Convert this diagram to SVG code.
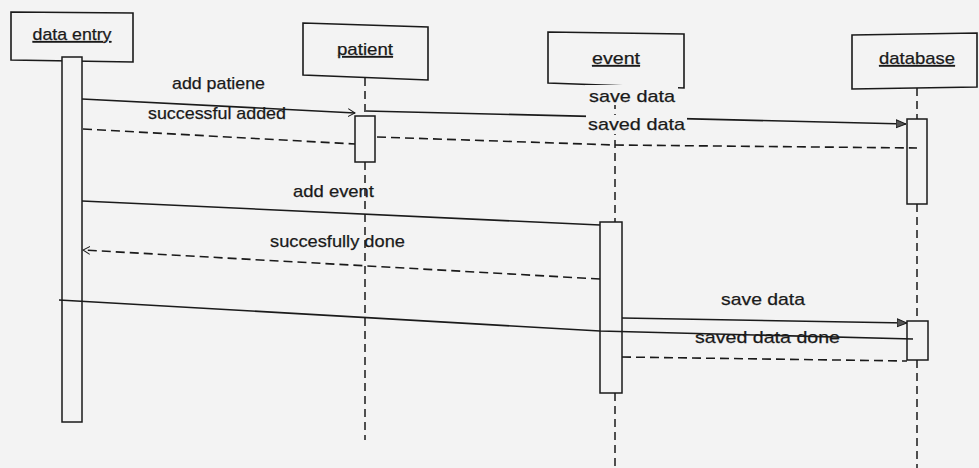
<svg xmlns="http://www.w3.org/2000/svg" width="979" height="468" viewBox="0 0 979 468">
  <style>
    .box { fill: #f3f3f3; stroke: #1a1a1a; stroke-width: 1.6; }
    .bar { fill: #f3f3f3; stroke: #1a1a1a; stroke-width: 1.5; }
    .life { fill: none; stroke: #1a1a1a; stroke-width: 1.5; stroke-dasharray: 8 5; }
    .msg { fill: none; stroke: #1a1a1a; stroke-width: 1.6; }
    .ret { fill: none; stroke: #1a1a1a; stroke-width: 1.6; stroke-dasharray: 9 5; }
    .title { font-family: "Liberation Sans", Arial, sans-serif; font-size: 17px; fill: #1a1a1a; stroke: #1a1a1a; stroke-width: 0.25; text-decoration: underline; text-anchor: middle; }
    .lbl { font-family: "Liberation Sans", Arial, sans-serif; font-size: 17px; fill: #1a1a1a; stroke: #1a1a1a; stroke-width: 0.25; }
    .bg { fill: #f3f3f3; }
  </style>
  <defs>
    <marker id="solidHead" markerWidth="10" markerHeight="10" refX="10" refY="5" orient="auto" markerUnits="userSpaceOnUse">
      <path d="M0,1 L10,5 L0,9 Z" fill="#555" stroke="#1a1a1a" stroke-width="1"/>
    </marker>
    <marker id="openHead" markerWidth="8" markerHeight="10" refX="7" refY="5" orient="auto" markerUnits="userSpaceOnUse">
      <path d="M0,1 L7,5 L0,9" fill="none" stroke="#1a1a1a" stroke-width="1"/>
    </marker>
  </defs>

  <rect x="0" y="0" width="979" height="468" fill="#f3f3f3"/>

  <!-- lifelines -->
  <g id="lifelines">
    <line class="life" x1="365" y1="78" x2="365" y2="116"/>
    <line class="life" x1="365" y1="162" x2="365" y2="440"/>
    <line class="life" x1="615" y1="88" x2="615" y2="222"/>
    <line class="life" x1="615" y1="393" x2="615" y2="468"/>
    <line class="life" x1="917" y1="88" x2="917" y2="119"/>
    <line class="life" x1="917" y1="204" x2="917" y2="321"/>
    <line class="life" x1="917" y1="360" x2="917" y2="468"/>
  </g>

  <!-- participants -->
  <g id="data-entry">
    <polygon class="box" points="11,12 133,13 133,62 11,60"/>
    <text class="title" x="72" y="40" textLength="79" lengthAdjust="spacingAndGlyphs">data entry</text>
    <rect class="bar" x="62" y="57" width="20" height="365"/>
  </g>
  <g id="patient">
    <polygon class="box" points="303,23 428,27 428,80 303,75"/>
    <text class="title" x="365" y="55" textLength="56" lengthAdjust="spacingAndGlyphs">patient</text>
    <rect class="bar" x="355" y="116" width="20" height="46"/>
  </g>
  <g id="event">
    <polygon class="box" points="548,32 684,34 684,88 548,83"/>
    <text class="title" x="616" y="64" textLength="48" lengthAdjust="spacingAndGlyphs">event</text>
    <rect class="bar" x="600" y="222" width="22" height="171"/>
  </g>
  <g id="database">
    <polygon class="box" points="852,35 977,33 977,87 852,89"/>
    <text class="title" x="917" y="64" textLength="76" lengthAdjust="spacingAndGlyphs">database</text>
    <rect class="bar" x="907" y="119" width="20" height="85"/>
    <rect class="bar" x="907" y="321" width="21" height="39"/>
  </g>

  <!-- messages -->
  <g id="connectors">
    <line class="msg" x1="82" y1="99" x2="355" y2="113" marker-end="url(#openHead)"/>
    <line class="ret" x1="83" y1="129" x2="355" y2="144"/>
    <polyline class="ret" points="377,137 615,145 917,148"/>
    <line class="msg" x1="366" y1="111" x2="906" y2="124" marker-end="url(#solidHead)"/>
    <line class="msg" x1="82" y1="201" x2="600" y2="225"/>
    <line class="ret" x1="600" y1="279" x2="83" y2="250" marker-end="url(#openHead)"/>
    <polyline class="msg" points="59,300 600,331 913,339"/>
    <line class="msg" x1="622" y1="318" x2="907" y2="323" marker-end="url(#solidHead)"/>
    <line class="ret" x1="622" y1="357" x2="907" y2="361"/>
  </g>

  <!-- message labels -->
  <g id="labels">
    <text class="lbl" x="172" y="89" textLength="93" lengthAdjust="spacingAndGlyphs">add patiene</text>
    <text class="lbl" x="148" y="119" textLength="138" lengthAdjust="spacingAndGlyphs">successful added</text>
    <rect class="bg" x="585" y="85" width="93" height="20"/>
    <text class="lbl" x="589" y="102" textLength="86" lengthAdjust="spacingAndGlyphs">save data</text>
    <rect class="bg" x="586" y="115" width="101" height="19"/>
    <text class="lbl" x="588" y="130" textLength="97" lengthAdjust="spacingAndGlyphs">saved data</text>
    <text class="lbl" x="293" y="197" textLength="81" lengthAdjust="spacingAndGlyphs">add event</text>
    <text class="lbl" x="270" y="247" textLength="135" lengthAdjust="spacingAndGlyphs">succesfully done</text>
    <text class="lbl" x="721" y="305" textLength="84" lengthAdjust="spacingAndGlyphs">save data</text>
    <text class="lbl" x="695" y="343" textLength="145" lengthAdjust="spacingAndGlyphs">saved data done</text>
  </g>
</svg>
